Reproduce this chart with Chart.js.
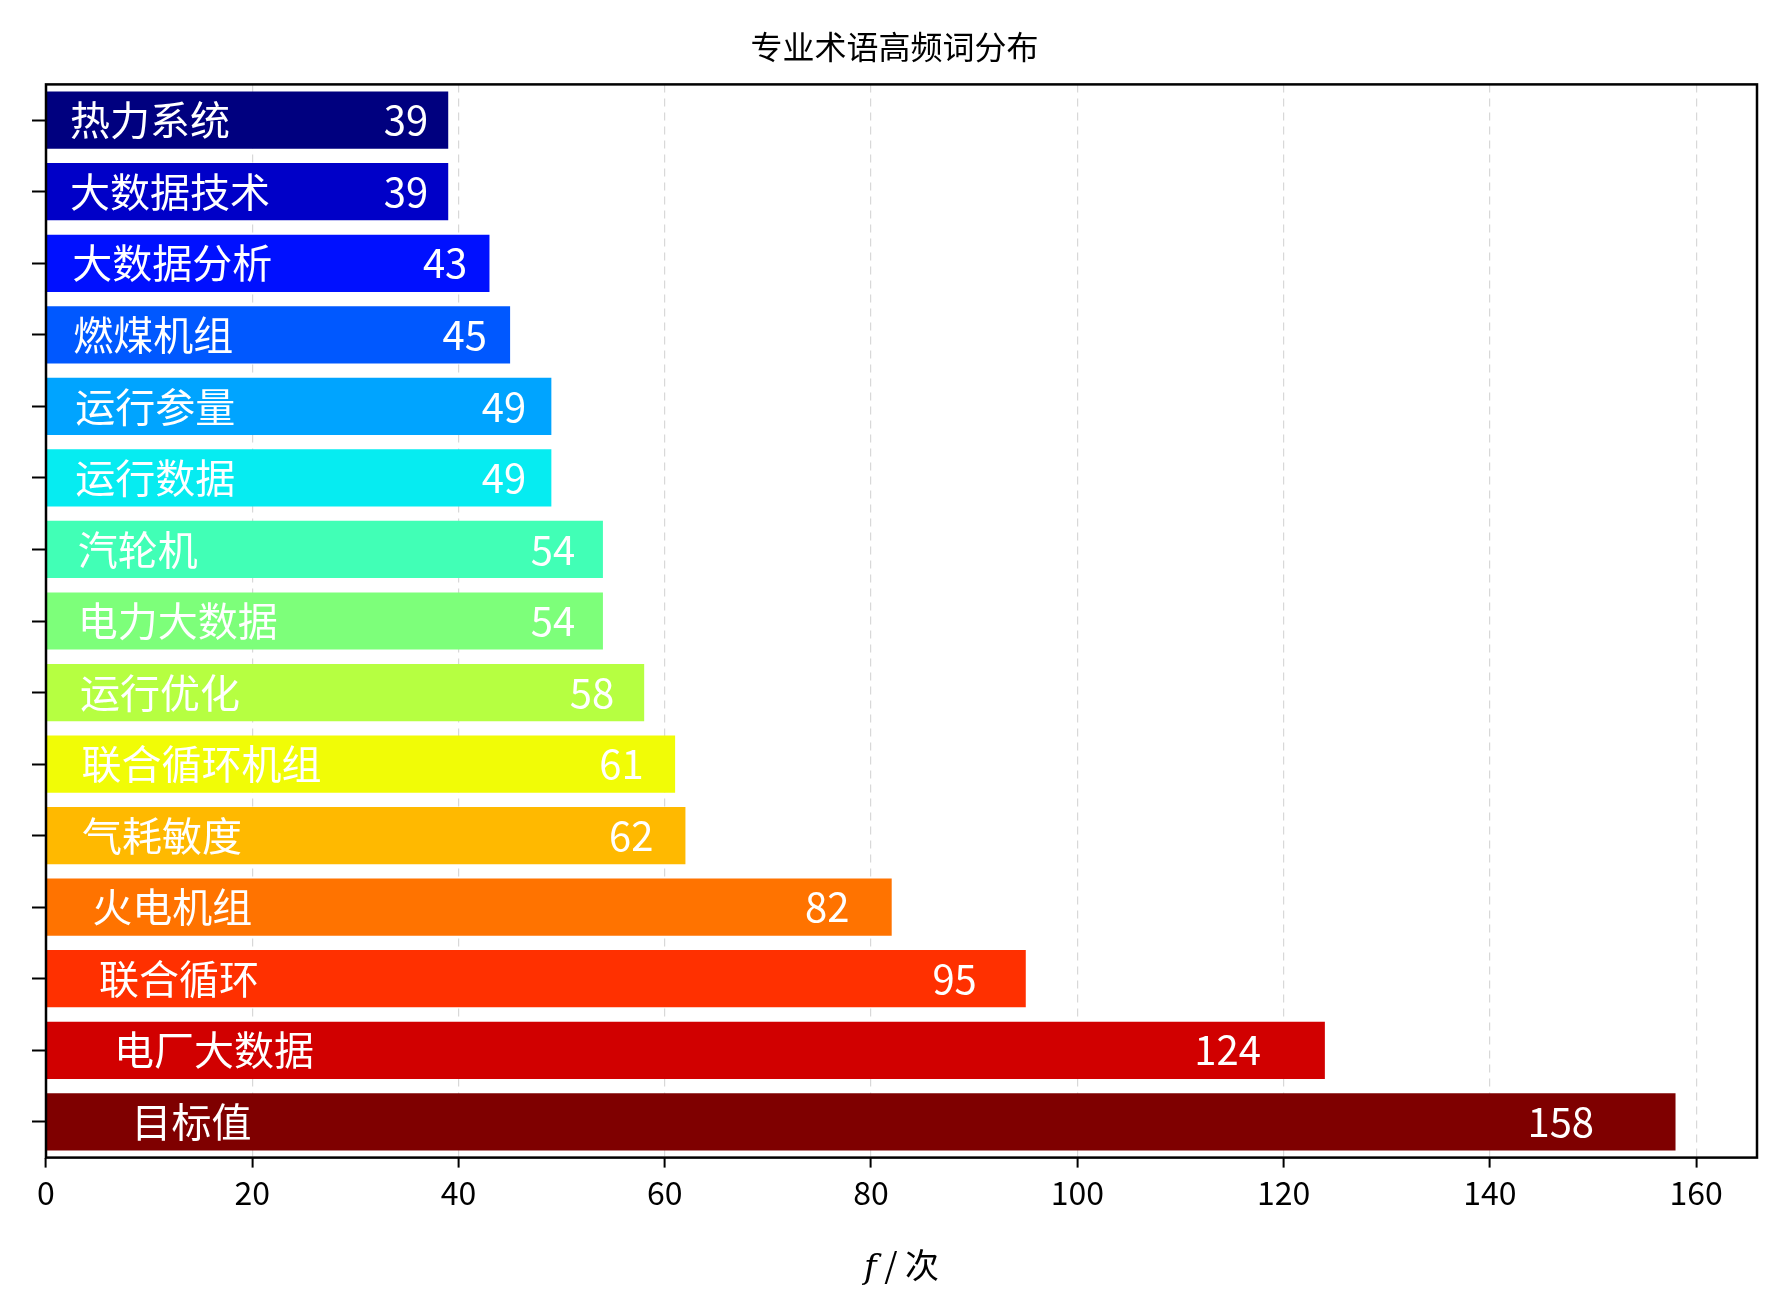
<!DOCTYPE html>
<html>
<head>
<meta charset="utf-8">
<script src="https://cdn.jsdelivr.net/npm/chart.js@4/dist/chart.umd.min.js"></script>
<style>
  body { margin: 0; background: #fff; }
  #wrap { width: 1779px; height: 1312px; }
</style>
</head>
<body>
<div id="wrap"><canvas id="chart"></canvas></div>
<script>
// --- DATA ---
const terms = ["热力系统", "大数据技术", "大数据分析", "燃煤机组", "运行参量", "运行数据", "汽轮机",
  "电力大数据", "运行优化", "联合循环机组", "气耗敏度", "火电机组", "联合循环", "电厂大数据", "目标值"];
const counts = [39, 39, 43, 45, 49, 49, 54, 54, 58, 61, 62, 82, 95, 124, 158];
const barColors = ["#00007f", "#0000c8", "#0010ff", "#0058ff", "#00a4ff", "#06ecf1", "#41ffb6",
  "#7dff7a", "#b6ff41", "#f1fc06", "#ffb900", "#ff7300", "#ff3000", "#d10000", "#7f0000"];
const xTicks = [0, 20, 40, 60, 80, 100, 120, 140, 160];

const FONT = "'Noto Sans CJK SC', 'Noto Sans', sans-serif";

// draws names + values inside the bars, the frame, and the axis title
const decorPlugin = {
  id: "decor",
  afterDatasetsDraw(chart) {
    const ctx = chart.ctx;
    const x = chart.scales.x, y = chart.scales.y;
    ctx.save();
    ctx.fillStyle = "#fff";
    ctx.font = "40px " + FONT;
    ctx.textBaseline = "middle";
    counts.forEach((v, i) => {
      const py = y.getPixelForValue(i);
      ctx.textAlign = "left";
      ctx.fillText(terms[i], x.getPixelForValue(v * 0.05) + 4, py);
      ctx.textAlign = "right";
      ctx.fillText(String(v), x.getPixelForValue(v * 0.95), py);
    });
    // frame
    const a = chart.chartArea;
    ctx.strokeStyle = "#000";
    ctx.lineWidth = 2.5;
    ctx.strokeRect(a.left, a.top, a.right - a.left, a.bottom - a.top);
    // x title
    ctx.fillStyle = "#000";
    ctx.textAlign = "left";
    ctx.textBaseline = "alphabetic";
    const cx = (a.left + a.right) / 2, ty = 1278;
    ctx.font = "italic 34px 'DejaVu Serif', serif";
    const fw = ctx.measureText("f").width;
    ctx.font = "34px " + FONT;
    const rw = ctx.measureText(" / 次").width;
    const sx = cx - (fw + rw) / 2;
    ctx.font = "italic 34px 'DejaVu Serif', serif";
    ctx.fillText("f", sx, ty);
    ctx.font = "34px " + FONT;
    ctx.fillText(" / 次", sx + fw, ty);
    ctx.restore();
  }
};

new Chart(document.getElementById("chart"), {
  type: "bar",
  data: {
    labels: terms,
    datasets: [{
      data: counts,
      backgroundColor: barColors,
      borderWidth: 0,
      categoryPercentage: 1,
      barPercentage: 0.8
    }]
  },
  options: {
    indexAxis: "y",
    responsive: true,
    maintainAspectRatio: false,
    animation: false,
    devicePixelRatio: 1,
    layout: { padding: { left: 32, right: 22, top: 8, bottom: 94 } },
    plugins: {
      legend: { display: false },
      tooltip: { enabled: false },
      title: {
        display: true,
        text: "专业术语高频词分布",
        color: "#000",
        font: { family: FONT, size: 32, weight: "normal" },
        padding: { top: 20, bottom: 18 }
      }
    },
    scales: {
      x: {
        min: 0,
        max: 165.9,
        afterBuildTicks: (s) => { s.ticks = xTicks.map(v => ({ value: v })); },
        grid: {
          color: "#d8d8d8",
          tickColor: "#000",
          tickLength: 10,
          tickWidth: 2,
          lineWidth: 1.2
        },
        border: { display: false, dash: [8, 6] },
        ticks: { color: "#000", font: { family: FONT, size: 32 }, padding: 6 }
      },
      y: {
        grid: { drawOnChartArea: false, offset: false, tickColor: "#000", tickLength: 14, tickWidth: 2 },
        border: { display: false },
        ticks: { callback: () => "", padding: 0 }
      }
    }
  },
  plugins: [decorPlugin]
});
</script>
</body>
</html>
